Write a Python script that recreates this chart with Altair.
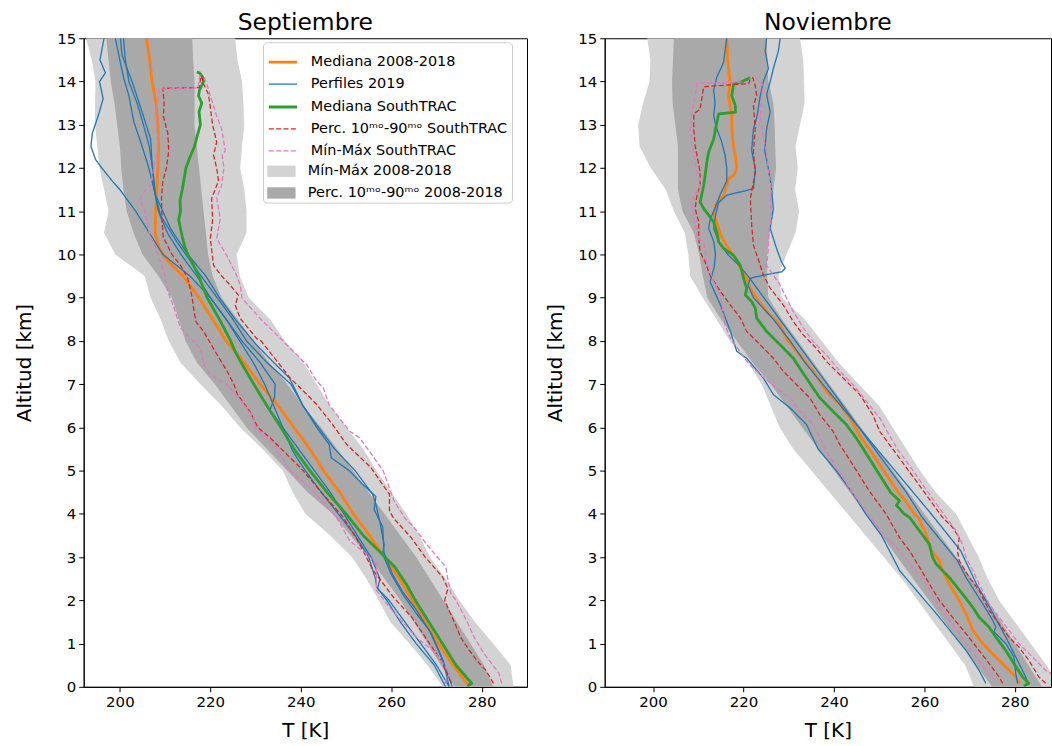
import altair as alt
import pandas as pd

# ---------------- series names / styles ----------------
LINE_SERIES = ["Mediana 2008-2018", "Perfiles 2019", "Mediana SouthTRAC",
               "Perc. 10\u1d50\u1d52-90\u1d50\u1d52 SouthTRAC", "Mín-Máx SouthTRAC"]
LINE_COLORS = ["#ff7f0e", "#1f77b4", "#2ca02c", "#d62728", "#e377c2"]
LINE_DASHES = [[1, 0], [1, 0], [1, 0], [5, 2.4], [5, 2.4]]
LINE_WIDTHS = [2.8, 1.3, 2.8, 1.3, 1.3]
BAND_SERIES = ["Mín-Máx 2008-2018", "Perc. 10\u1d50\u1d52-90\u1d50\u1d52 2008-2018"]
BAND_COLORS = ["#d3d3d3", "#a9a9a9"]

# ---------------- band altitude grid ----------------
BAND_ALT = [0, 0.5, 1, 1.5, 2, 2.5, 3, 3.5, 4, 4.5, 5, 5.5, 6, 6.5, 7, 7.5, 8, 8.5, 9,
            9.5, 10, 10.5, 11, 11.5, 12, 12.5, 13, 13.5, 14, 14.5, 15]

# ================= SEPTIEMBRE =================
SEP_MINMAX_LO = [271.4, 268, 264, 259.8, 257.2, 254.5, 251.3, 246.5, 241, 238.2, 236, 231.5, 226.6,
                 222.5, 217.8, 213.4, 210.8, 209, 206.8, 205.5, 199, 196.5, 197.5, 196.5, 195.5,
                 195, 194.5, 194.5, 194.6, 193.8, 192.5]
SEP_MINMAX_HI = [287, 286.4, 282.5, 278.5, 275, 272, 268.5, 266.2, 263.3, 260, 256.7, 253.8, 250.1,
                 246.4, 243.5, 240.6, 236.5, 233.2, 228.5, 226.5, 225.8, 228, 228, 227.5, 226.6,
                 227, 227.5, 227.3, 227, 226, 225.5]
SEP_P10 = [274, 271, 268, 265, 262, 258.5, 255, 251, 247, 241.5, 237, 232.5, 228, 224.5, 221, 217,
           214.5, 213, 211.5, 208.5, 205, 203, 201.5, 200.8, 200.3, 200, 199.4, 198.8, 198, 197.5, 197]
SEP_P90 = [282.5, 280.5, 277.5, 274.5, 271.5, 268.5, 265.5, 262, 258.5, 255, 251.5, 248, 244.5,
           240.5, 237, 233, 229.5, 226, 222.5, 220.5, 219.5, 219, 218.5, 218, 217.5, 217, 216.5,
           216.5, 216.5, 216.2, 216]

SEP_MED_ALT = [0, 0.5, 1, 1.5, 2, 2.5, 3, 3.5, 4, 4.5, 5, 5.5, 6, 6.5, 7, 7.5, 8, 8.5, 9, 9.5, 9.8,
               10, 10.2, 10.5, 11, 11.5, 12, 12.5, 13, 13.5, 14, 14.5, 15]
SEP_MED_T = [277.3, 273.7, 270.4, 267.5, 264.6, 261.8, 258.5, 255.2, 251.6, 248.6, 245, 242, 238.5,
             235, 231, 227.5, 223.5, 220.5, 217.5, 214, 211, 209.5, 208.5, 207.8, 207.9, 208.2,
             208.4, 208.6, 208.4, 208, 207.1, 206.6, 205.9]

SEP_B1_ALT = [0, 0.5, 1, 1.5, 2, 2.3, 2.5, 3, 3.5, 4, 4.5, 5, 5.3, 5.5, 6, 6.5, 7, 7.5, 8, 8.5, 9,
              9.5, 10, 10.5, 11, 11.5, 11.7, 12, 12.2, 12.5, 12.8, 13.2, 13.6, 14, 14.2, 14.5, 15]
SEP_B1_T = [272, 269.5, 265.5, 262, 259, 256.8, 256.5, 255, 252, 248.3, 244.5, 241, 239.1, 238, 236,
            234, 232, 229.5, 226.5, 223.5, 220, 215.5, 209.5, 206.5, 203.5, 200, 198.3, 196, 194.6,
            193.6, 193.9, 195.2, 196.3, 195.5, 196.8, 195.6, 196.5]
SEP_B2_ALT = [0, 0.6, 1.2, 1.8, 2.2, 2.6, 3.1, 3.7, 4.1, 4.4, 4.7, 5, 5.3, 5.6, 6, 6.5, 7, 7.5, 8,
              8.5, 9, 9.52, 10.29, 10.9, 11.52, 11.83, 12.14, 12.6, 13.06, 13.67, 14.06, 14.44, 15]
SEP_B2_T = [272.8, 271.5, 269, 265.4, 262.5, 260.3, 258.4, 258.1, 256.2, 256.6, 253.5, 250.7, 246.7,
            246.3, 243.5, 240.5, 237.8, 232.5, 228, 225, 221.5, 217.8, 212.6, 209, 207.5, 206.8,
            206, 204.6, 203.1, 202, 200.9, 200.1, 199]
SEP_B3_ALT = [0, 0.7, 1.31, 1.7, 2.15, 2.6, 3.07, 3.3, 3.8, 4.22, 4.45, 5, 5.5, 6.07, 6.5, 7.14, 7.5,
              7.91, 8.5, 9, 9.5, 10, 10.6, 11.37, 11.75, 12.14, 12.67, 13.3, 14, 14.6, 15]
SEP_B3_T = [273.5, 271, 268.4, 265.5, 262.5, 260, 258.1, 258.4, 257.5, 256.6, 255.9, 252, 247.5,
            243.4, 240.5, 237.5, 234, 230.2, 225.5, 222, 219, 215, 211.2, 207.9, 207.5, 207.1,
            206.8, 204.9, 202.7, 200.5, 200.1]
SEP_B4_ALT = [0, 0.5, 1, 1.5, 2, 2.27, 2.5, 3, 3.5, 4, 4.5, 5, 5.5, 6, 6.4, 6.7, 7, 7.5, 8, 8.5, 9,
              9.5, 10, 10.5, 11, 11.5, 12, 12.5, 13, 13.5, 14, 14.5, 15]
SEP_B4_T = [272.8, 270, 266.5, 263, 259.5, 257, 257.5, 255.5, 252.5, 249.5, 246.5, 243, 239.5, 236,
            233.2, 234.2, 234.3, 231, 227, 223.5, 220, 217, 213.5, 210.5, 208.5, 207.6, 207.2,
            206.5, 205.2, 203.8, 202, 201.2, 200.8]

SEP_ST_MED_ALT = [0.02, 0.08, 0.15, 0.5, 1, 1.5, 2, 2.38, 2.5, 2.77, 3, 3.15, 3.5, 4, 4.5, 5, 5.5,
                  6, 6.5, 7, 7.5, 7.75, 8, 8.5, 9, 9.45, 9.7, 10, 10.2, 10.4, 10.6, 10.8, 11, 11.25,
                  11.5, 11.75, 12, 12.2, 12.5, 12.7, 13, 13.3, 13.5, 13.67, 13.8, 14, 14.1, 14.2,
                  14.22]
SEP_ST_MED_T = [276.8, 277.8, 277.2, 274.3, 271.3, 268.3, 265.3, 263.3, 262.5, 260.8, 258.6, 257.2,
                253.8, 250, 245.8, 242, 238.5, 235.6, 232.5, 229.6, 226.8, 225.5, 224.5, 222,
                219.3, 217.6, 216.5, 215, 214.3, 213.8, 213.4, 213, 213.4, 213.3, 213.8, 214.2,
                214.6, 215.3, 216.5, 217, 217.8, 217.5, 218.1, 217.4, 217.6, 218.5, 218.3, 217.6,
                217.0]
SEP_ST_P10_ALT = [0.08, 0.61, 1.15, 1.61, 2.07, 2.69, 3.3, 3.92, 4.53, 5.0, 5.45, 5.76, 6.0, 6.36,
                  6.76, 7.0, 7.3, 7.68, 8.22, 8.45, 8.75, 9.0, 9.45, 9.75, 10.0, 10.4, 10.8, 11.3,
                  11.7, 12.0, 12.4, 12.8, 13.2, 13.5, 13.84, 13.86, 14.15]
SEP_ST_P10_T = [273.3, 271, 267.5, 264.5, 260.5, 256, 253, 249.4, 244.3, 240.5, 236.2, 233.2,
                230.5, 228.8, 226, 225.2, 223.7, 221.5, 218.5, 216.8, 216.3, 216, 215, 213.4,
                211.5, 209.6, 209.3, 209.2, 209.5, 210.3, 210.8, 210.6, 209.6, 209.8, 209.5,
                217.5, 218]
SEP_ST_P90_ALT = [0.08, 0.38, 0.6, 0.85, 1.15, 1.31, 2.0, 2.27, 2.53, 3.0, 3.45, 3.9, 4.07, 4.45,
                  5.07, 5.61, 6.07, 6.53, 6.69, 7.15, 8.0, 8.06, 8.52, 8.83, 9.06, 9.29, 9.5, 9.75,
                  10.37, 10.8, 11.3, 11.7, 12.0, 12.3, 12.6, 13.0, 13.4, 13.7, 13.95, 14.15]
SEP_ST_P90_T = [282.6, 280.9, 279, 277.2, 275.3, 274.7, 271.8, 272.5, 271.4, 267.5, 264.4, 260.5,
                259.6, 259.6, 255.5, 250.1, 247, 243.5, 242, 237.6, 231.2, 230.2, 226.6, 225.5,
                226.2, 224.4, 222.5, 220.7, 220, 220.5, 220.3, 221.8, 221.4, 220.7, 221.4, 220.5,
                220, 219.6, 218.5, 218]
SEP_ST_MIN_ALT = [0.08, 0.31, 0.77, 1.15, 1.84, 2.23, 2.84, 3.07, 3.38, 3.92, 4.53, 5.0, 5.61, 5.99,
                  6.22, 6.53, 6.99, 7.22, 7.45, 7.83, 8.14, 8.3, 8.76, 9.2, 9.5, 9.83, 10.0, 10.5,
                  11.0, 11.25, 11.4, 11.6, 12.0, 12.4, 12.8, 13.2, 13.6, 13.82, 13.85, 14.18]
SEP_ST_MIN_T = [271.8, 272.9, 269.9, 265.5, 259.6, 256.7, 256.7, 254.5, 250.8, 247.9, 242.8, 237.6,
                234, 229.9, 229.6, 227.4, 223.7, 220, 218.6, 217.8, 214.9, 213.4, 212, 210.4, 210,
                209, 208.5, 206.5, 205.5, 204.6, 204.9, 206.8, 207.5, 208.3, 208.4, 207.9, 208.4,
                208.6, 217.2, 217.8]
SEP_ST_MAX_ALT = [0.08, 0.31, 0.77, 1.15, 1.5, 2.0, 2.15, 2.6, 2.76, 3.3, 3.69, 3.9, 4.3, 5.0, 5.76,
                  5.91, 6.53, 6.91, 7.07, 7.45, 8.14, 8.52, 8.99, 9.29, 9.52, 9.98, 10.37, 10.83,
                  11.3, 11.6, 12.0, 12.3, 12.4, 12.9, 13.2, 13.67, 13.95, 14.15]
SEP_ST_MAX_T = [284.4, 283.8, 280.5, 278.3, 276.8, 274.3, 273.2, 272.3, 272.1, 267.8, 265, 263,
                260.6, 258.2, 253, 250.8, 246.2, 245, 243.5, 241.3, 234.7, 231, 227, 226.6, 225.8,
                223.6, 221.4, 222.2, 221.4, 222.5, 223, 222.6, 223.3, 222.5, 221.4, 220, 219.2,
                218.5]

# ================= NOVIEMBRE =================
NOV_MINMAX_LO = [271, 269, 265.5, 262, 258.5, 255, 251, 247, 243, 239, 235, 231, 228, 226, 224, 221,
                 217, 214, 211, 208.2, 207.8, 207, 204.6, 202.8, 199.5, 197, 196.7, 197.8, 199.2,
                 199.4, 198.7]
NOV_MINMAX_HI = [290, 287, 283.5, 280, 276.5, 274, 272, 269.5, 267, 262.5, 259, 256, 253, 250, 245.5,
                 241, 237.3, 233.5, 228.5, 227.7, 229.5, 231.5, 232.3, 231.4, 232, 231.5, 232.5,
                 233.5, 233.4, 233.2, 232.5]
NOV_P10 = [275, 271.5, 268, 264.5, 261, 257.5, 254, 250.5, 247, 243.5, 240, 236.5, 233, 229.5, 226,
           222, 218.5, 215, 212, 211, 210.2, 209, 206.5, 205.5, 205.5, 205.5, 204.9, 204.3, 204.2,
           204.4, 204.6]
NOV_P90 = [286, 283, 280, 277, 274, 270.5, 267, 263.5, 260, 256.5, 253, 249.5, 246, 242.5, 239,
           235.5, 232, 228.5, 225.5, 225.2, 225.2, 225.8, 226.3, 226.6, 227.2, 227, 226.9, 226.6,
           225.5, 225.3, 225.1]

NOV_MED_ALT = [0.08, 0.23, 0.46, 0.69, 1.0, 1.31, 1.69, 2.07, 2.38, 2.69, 2.92, 3.15, 3.53, 3.92,
               4.0, 4.3, 4.5, 5.0, 5.5, 5.76, 6.22, 6.53, 6.84, 7.3, 7.76, 8.06, 8.37, 8.68, 8.99,
               9.22, 9.45, 9.6, 9.83, 10.21, 10.45, 10.75, 10.91, 11.14, 11.37, 11.6, 11.75, 11.83,
               11.98, 12.29, 12.5, 12.9, 13.2, 13.67, 14.0, 14.5, 15]
NOV_MED_T = [281, 280.2, 278, 275.8, 272.9, 270.7, 269.2, 267.3, 265.5, 264, 263.3, 261.5, 260.4,
             258.6, 257.8, 255.8, 254.2, 251, 247.8, 246, 243.5, 241.3, 238.3, 235.4, 231.7, 229.5,
             228.1, 225.1, 222.9, 221.5, 220.7, 219.8, 218.5, 216.3, 214.9, 214.1, 213.4, 213.8,
             215.6, 216.3, 216.7, 217.8, 218.5, 218.2, 217.8, 217.4, 217.4, 216.7, 217, 216.5,
             216.3]

NOV_B1_ALT = [0.08, 0.38, 0.84, 1.61, 2.15, 2.69, 3.0, 3.5, 4.0, 4.5, 5.0, 5.5, 6.07, 6.45, 6.76,
              7.14, 7.6, 7.76, 8.22, 8.83, 9.37, 9.7, 10.0, 10.3, 10.6, 10.8, 11.1, 11.4, 11.7,
              12.0, 12.3, 12.6, 12.9, 13.2, 13.5, 13.8, 14.1, 14.44, 14.7, 15]
NOV_B1_T = [273.6, 272.1, 269.2, 263.3, 258.9, 254.5, 253, 250.5, 247, 244, 240.5, 236.5, 233.9,
            230.3, 226.6, 224.4, 220.7, 218.5, 217.1, 214.9, 212.6, 213.5, 213.8, 213.4, 212.3,
            212.6, 213.8, 214.9, 216.3, 216.3, 215.9, 215.2, 214.1, 213.4, 213.7, 213.4, 214.1,
            215.6, 215.9, 216.3]
NOV_B2_ALT = [0.08, 0.31, 0.69, 1.0, 1.27, 1.38, 1.54, 1.92, 2.53, 2.92, 3.38, 3.92, 4.5, 5.0, 5.5,
              6.0, 6.5, 7.0, 7.5, 8.0, 8.5, 9.0, 9.5, 9.75, 10.0, 10.3, 10.6, 10.9, 11.2, 11.37,
              11.52, 11.98, 12.4, 12.9, 13.2, 13.67, 14.0, 14.3, 14.7, 15]
NOV_B2_T = [280.6, 280.2, 279.8, 278, 275.4, 275.8, 275.1, 272.9, 269.2, 267.3, 263.7, 259.5, 256,
            252.5, 249, 245.5, 242, 238.5, 235, 231.5, 228, 224.5, 221, 219, 216.5, 214.5, 213.4,
            213.8, 214.5, 216.3, 222.2, 222.6, 221.8, 222.2, 223, 223.7, 224.4, 225.5, 224.8,
            225.1]
NOV_B3_ALT = [0.05, 0.23, 1.15, 1.77, 2.38, 3.15, 4.0, 4.5, 5.0, 5.5, 6.0, 6.5, 7.0, 7.5, 8.0, 8.5,
              9.0, 9.29, 9.45, 9.52, 9.6, 9.68, 9.83, 10.14, 10.6, 11.06, 11.52, 11.98, 12.4,
              12.9, 13.3, 13.7, 14.0, 14.3, 14.7, 15]
NOV_B3_T = [283, 282.4, 278, 274.8, 271.5, 268, 261.5, 257.5, 253.5, 249.5, 245.5, 241.5, 237.5,
            233.6, 230.3, 226.6, 222.2, 221, 221.5, 224.4, 228.5, 229.2, 228.4, 227.3, 225.9,
            226.6, 226.2, 225.5, 224.7, 225.1, 225.9, 225.1, 225.9, 226.6, 227.7, 228.1]

NOV_ST_MED_ALT = [0.02, 0.08, 0.23, 0.54, 0.84, 1.15, 1.38, 1.61, 1.84, 2.15, 2.53, 2.84, 3.0, 3.3,
                  3.61, 3.92, 4.0, 4.2, 4.3, 4.5, 5.0, 5.5, 5.76, 6.07, 6.37, 6.68, 7.14, 7.6,
                  7.91, 8.22, 8.53, 8.76, 8.91, 9.06, 9.22, 9.45, 9.75, 9.98, 10.14, 10.29, 10.52,
                  10.75, 10.91, 11.06, 11.21, 11.6, 11.9, 12.14, 12.37, 12.67, 12.9, 13.06, 13.25,
                  13.29, 13.44, 13.67, 13.94, 13.98, 14.09]
NOV_ST_MED_T = [282, 283.1, 281.7, 279.8, 278, 275.8, 274.3, 272.1, 270.7, 268.4, 265.5, 262.6,
                261.8, 261.1, 258.9, 256.7, 255.5, 253.8, 254.5, 252.5, 249.5, 246.5, 244.9, 242.7,
                239.8, 236.9, 233.9, 231, 228.1, 225.1, 222.9, 222.6, 221.8, 220.4, 220.7, 220,
                219.3, 217.8, 215.6, 214.5, 214.1, 213.4, 212.3, 211.2, 210.4, 211.2, 211.6, 211.9,
                212.3, 213.4, 213.8, 214.1, 214.5, 218.2, 218.2, 217.4, 217.8, 219.3, 221.5]
NOV_ST_P10_ALT = [0.08, 0.23, 0.54, 0.84, 1.23, 1.61, 2.0, 2.38, 2.77, 3.15, 3.45, 4.0, 4.5, 5.0,
                  5.6, 5.91, 6.29, 6.68, 6.99, 7.3, 7.6, 7.91, 8.22, 8.53, 8.83, 9.14, 9.52, 9.83,
                  10.06, 10.37, 10.75, 11.06, 11.37, 11.6, 11.9, 12.29, 12.52, 12.9, 13.25, 13.36,
                  13.88, 13.95, 14.1]
NOV_ST_P10_T = [277.3, 276.5, 274.3, 272.1, 269.2, 266.2, 263.3, 261.1, 258.9, 256.7, 254.5, 251.5,
                248, 245, 241.3, 239.8, 236.9, 234.7, 231.7, 228.8, 226.6, 223.7, 220.7, 219.3,
                217.1, 214.9, 212.6, 211.5, 210.4, 210.1, 210.1, 209.3, 209.7, 210.4, 210.4, 209.7,
                209.3, 209, 209, 210.4, 211.2, 221.2, 221.5]
NOV_ST_P90_ALT = [0.08, 0.23, 0.61, 0.92, 1.15, 1.46, 1.77, 2.23, 2.53, 2.92, 3.15, 3.45, 3.69,
                  3.92, 4.5, 5.0, 5.5, 5.91, 6.29, 6.76, 6.99, 7.3, 7.53, 7.83, 8.14, 8.45, 8.83,
                  9.22, 9.52, 9.75, 10.21, 10.68, 11.29, 11.9, 12.37, 12.9, 13.44, 13.67, 13.9, 14.1]
NOV_ST_P90_T = [286.8, 285.3, 283.1, 280.9, 278.7, 276.5, 274.3, 272.1, 269.9, 267.7, 267.3, 267.7,
                266.2, 264, 260, 256.5, 253, 250.1, 248.6, 245.7, 243.5, 240.5, 238.3, 236.1,
                233.2, 231, 228.8, 225.9, 224.4, 223.7, 222.2, 221.8, 221.5, 222.6, 222.2, 222.6,
                222.2, 222.9, 222.6, 222]
NOV_ST_MIN_ALT = [0.15, 0.38, 0.61, 1.0, 1.46, 1.84, 2.38, 2.77, 3.15, 3.5, 4.0, 4.5, 5.0, 5.5,
                  5.76, 6.07, 6.37, 6.68, 6.91, 7.22, 7.53, 8.06, 8.37, 9.06, 9.37, 9.83, 10.29,
                  10.37, 10.52, 10.75, 11.06, 11.37, 11.52, 11.75, 11.9, 12.14, 12.52, 12.9, 13.29,
                  13.67, 13.96, 13.99, 14.1]
NOV_ST_MIN_T = [275.8, 273.6, 272.1, 269.2, 266.2, 263.3, 260.4, 257.4, 254.5, 251, 247.5, 244,
                241, 238, 236.9, 235.4, 232.5, 230.3, 227.3, 223.7, 220.7, 217.1, 215.9, 214.9,
                213.4, 211.9, 211.2, 209.7, 209.7, 209.3, 208.6, 209, 210.4, 210.4, 209.7, 209.3,
                208.6, 208.2, 208.6, 209.3, 209.7, 221, 221.5]
NOV_ST_MAX_ALT = [0.08, 0.31, 0.38, 0.69, 1.0, 1.31, 1.61, 1.92, 2.38, 2.69, 3.0, 3.3, 3.61, 3.92,
                  4.5, 5.0, 5.5, 6.22, 6.6, 6.99, 7.3, 7.68, 7.99, 8.3, 8.68, 8.99, 9.29, 9.52,
                  9.75, 10.14, 10.52, 10.83, 11.29, 11.52, 11.9, 12.37, 12.7, 13.2, 13.67, 13.9,
                  13.98, 14.1]
NOV_ST_MAX_T = [288.6, 288, 286.8, 283.9, 280.9, 278.7, 276.5, 274.3, 272.1, 270.7, 269.2, 268.4,
                267, 264.8, 260.8, 257.5, 254, 250.1, 247.2, 244.2, 241.3, 238.3, 235.4, 233.2,
                231, 229.5, 228.1, 226.6, 225.1, 225.5, 225.5, 226.2, 225.9, 226.2, 225.5, 225.1,
                224.4, 223.7, 224, 224.4, 223.7, 222.5]


def lines_frame(entries):
    rows = []
    for serie, pid, alts, temps in entries:
        for i, (a, t) in enumerate(zip(alts, temps)):
            rows.append({"serie": serie, "pid": pid, "alt": a, "T": t, "ord": i})
    return pd.DataFrame(rows)


def band_frame(name, lo, hi):
    return pd.DataFrame({"alt": BAND_ALT, "lo": lo, "hi": hi, "band": name})


sep_lines = lines_frame([
    (LINE_SERIES[0], "med", SEP_MED_ALT, SEP_MED_T),
    (LINE_SERIES[1], "b1", SEP_B1_ALT, SEP_B1_T),
    (LINE_SERIES[1], "b2", SEP_B2_ALT, SEP_B2_T),
    (LINE_SERIES[1], "b3", SEP_B3_ALT, SEP_B3_T),
    (LINE_SERIES[1], "b4", SEP_B4_ALT, SEP_B4_T),
    (LINE_SERIES[2], "stmed", SEP_ST_MED_ALT, SEP_ST_MED_T),
    (LINE_SERIES[3], "p10", SEP_ST_P10_ALT, SEP_ST_P10_T),
    (LINE_SERIES[3], "p90", SEP_ST_P90_ALT, SEP_ST_P90_T),
    (LINE_SERIES[4], "min", SEP_ST_MIN_ALT, SEP_ST_MIN_T),
    (LINE_SERIES[4], "max", SEP_ST_MAX_ALT, SEP_ST_MAX_T),
])
nov_lines = lines_frame([
    (LINE_SERIES[0], "med", NOV_MED_ALT, NOV_MED_T),
    (LINE_SERIES[1], "b1", NOV_B1_ALT, NOV_B1_T),
    (LINE_SERIES[1], "b2", NOV_B2_ALT, NOV_B2_T),
    (LINE_SERIES[1], "b3", NOV_B3_ALT, NOV_B3_T),
    (LINE_SERIES[2], "stmed", NOV_ST_MED_ALT, NOV_ST_MED_T),
    (LINE_SERIES[3], "p10", NOV_ST_P10_ALT, NOV_ST_P10_T),
    (LINE_SERIES[3], "p90", NOV_ST_P90_ALT, NOV_ST_P90_T),
    (LINE_SERIES[4], "min", NOV_ST_MIN_ALT, NOV_ST_MIN_T),
    (LINE_SERIES[4], "max", NOV_ST_MAX_ALT, NOV_ST_MAX_T),
])
sep_light = band_frame(BAND_SERIES[0], SEP_MINMAX_LO, SEP_MINMAX_HI)
sep_dark = band_frame(BAND_SERIES[1], SEP_P10, SEP_P90)
nov_light = band_frame(BAND_SERIES[0], NOV_MINMAX_LO, NOV_MINMAX_HI)
nov_dark = band_frame(BAND_SERIES[1], NOV_P10, NOV_P90)

FONT = "DejaVu Sans"
SYM = 807            # legend symbol area -> ~28 px long
LINE_ROW = 22.2      # measured height of one entry of the line legend
LEG_Y = 4


def panel(title, xdomain, width, lines_df, light_df, dark_df, leg_lines, leg_bands, ytitle_pad):
    xscale = alt.Scale(domain=xdomain, nice=False, zero=False)
    yscale = alt.Scale(domain=[0, 15], nice=False, zero=False)
    xaxis = alt.Axis(values=[200, 220, 240, 260, 280], title="T [K]", format="d")
    yaxis = alt.Axis(values=list(range(16)), title="Altitud [km]", format="d",
                     titlePadding=ytitle_pad)
    y = alt.Y("alt:Q", scale=yscale, axis=yaxis)
    fill = alt.Fill("band:N", scale=alt.Scale(domain=BAND_SERIES, range=BAND_COLORS),
                    legend=leg_bands)

    light = alt.Chart(light_df).mark_area(orient="horizontal", clip=True).encode(
        x=alt.X("lo:Q", scale=xscale, axis=xaxis), x2="hi:Q", y=y, fill=fill)
    dark = alt.Chart(dark_df).mark_area(orient="horizontal", clip=True).encode(
        x=alt.X("lo:Q", scale=xscale, axis=xaxis), x2="hi:Q", y=y, fill=fill)
    lines = alt.Chart(lines_df).mark_line(clip=True, strokeJoin="round").encode(
        x=alt.X("T:Q", scale=xscale, axis=xaxis),
        y=y,
        color=alt.Color("serie:N", scale=alt.Scale(domain=LINE_SERIES, range=LINE_COLORS),
                        legend=leg_lines),
        strokeDash=alt.StrokeDash("serie:N", scale=alt.Scale(domain=LINE_SERIES,
                                                             range=LINE_DASHES),
                                  legend=leg_lines),
        strokeWidth=alt.StrokeWidth("serie:N", scale=alt.Scale(type="ordinal",
                                                               domain=LINE_SERIES,
                                                               range=LINE_WIDTHS),
                                    legend=leg_lines),
        detail="pid:N",
        order=alt.Order("ord:Q"),
    )
    return alt.layer(light, dark, lines).properties(
        width=width, height=651, title=alt.TitleParams(title))


LEG_LINES = alt.Legend(title=" ", titleOrient="bottom", titleFontSize=31, titlePadding=11,
                       orient="none", legendX=180, legendY=LEG_Y, symbolType="stroke",
                       symbolSize=SYM, labelFontSize=14.5, labelFont=FONT, labelColor="black",
                       strokeColor="#cccccc", cornerRadius=4, padding=4, rowPadding=0,
                       labelOffset=12, labelLimit=400, zindex=1)
LEG_BANDS = alt.Legend(title=None, orient="none", legendX=180, legendY=LEG_Y + 5 * LINE_ROW,
                       symbolType="M-1,-0.4H1V0.4H-1Z", symbolSize=SYM, symbolStrokeWidth=0,
                       labelFontSize=14.5, labelFont=FONT, labelColor="black", padding=4,
                       rowPadding=0.8, labelOffset=12, labelLimit=400, zindex=2)

left = panel("Septiembre", [192.0, 290.0], 445, sep_lines, sep_light, sep_dark,
             LEG_LINES, LEG_BANDS, 22)
right = panel("Noviembre", [189.3, 288.0], 448, nov_lines, nov_light, nov_dark,
              None, None, 12)

chart = alt.hconcat(left, right, spacing=17).resolve_scale(
    x="independent", color="independent", strokeDash="independent",
    strokeWidth="independent", fill="independent"
).properties(
    padding={"left": 14, "top": 9, "right": 0, "bottom": 0}
).configure_view(
    stroke="black", strokeWidth=1
).configure_axis(
    grid=False, domainColor="black", tickColor="black", labelColor="black", titleColor="black",
    tickSize=5, labelFont=FONT, labelFontSize=15, titleFont=FONT, titleFontSize=20,
    titleFontWeight="normal", labelPadding=3
).configure_axisX(
    titlePadding=11
).configure_title(
    font=FONT, fontSize=23.5, fontWeight="normal", color="black", offset=-3, anchor="middle"
)

chart.save("out.html", embed_options={"renderer": "svg", "actions": False})
